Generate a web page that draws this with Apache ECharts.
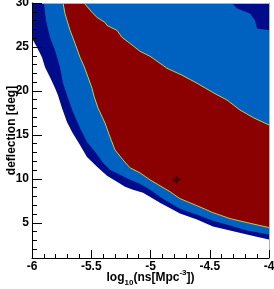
<!DOCTYPE html>
<html>
<head>
<meta charset="utf-8">
<script src="https://cdn.jsdelivr.net/npm/echarts@6/dist/echarts.min.js"></script>
<style>
html,body{margin:0;padding:0;background:#fff;}
#c{width:274px;height:289px;}
</style>
</head>
<body>
<div id="c"></div>
<script>
// Contour boundaries: [log10(ns), deflection deg]; each region fills from its boundary up to the top of the axis
var outerEdge = [[-6.00,25.98],[-5.958,24.96],[-5.916,23.83],[-5.890,22.70],[-5.848,21.56],[-5.806,20.32],[-5.781,19.52],[-5.747,18.05],[-5.705,16.47],[-5.662,15.33],[-5.595,13.86],[-5.536,12.50],[-5.451,11.37],[-5.367,10.35],[-5.283,9.66],[-5.215,9.11],[-5.148,8.77],[-5.063,8.43],[-4.920,7.29],[-4.751,6.05],[-4.608,5.37],[-4.473,4.57],[-4.329,4.12],[-4.186,3.67],[-4.076,3.33],[-4.00,3.10]];
var middleEdge = [[-5.899,30],[-5.882,28.02],[-5.848,26.09],[-5.806,24.62],[-5.764,22.70],[-5.738,20.88],[-5.696,19.18],[-5.654,17.60],[-5.595,15.79],[-5.536,14.20],[-5.468,13.07],[-5.401,11.82],[-5.342,11.03],[-5.257,10.46],[-5.173,9.89],[-5.089,9.44],[-5.004,8.77],[-4.895,7.75],[-4.751,6.61],[-4.608,5.93],[-4.473,5.25],[-4.329,4.69],[-4.186,4.12],[-4.00,3.67]];
var innerLowEdge = [[-5.738,30],[-5.722,28.81],[-5.679,26.89],[-5.637,25.41],[-5.595,23.83],[-5.561,22.81],[-5.527,21.56],[-5.494,20.32],[-5.477,19.41],[-5.443,18.05],[-5.384,16.35],[-5.342,14.77],[-5.300,13.30],[-5.232,12.16],[-5.173,11.26],[-5.089,10.69],[-5.004,9.89],[-4.920,9.22],[-4.835,8.54],[-4.751,7.75],[-4.608,6.95],[-4.473,6.16],[-4.329,5.48],[-4.186,5.03],[-4.00,4.46]];
var innerHighEdge = [[-5.561,30],[-5.485,28.81],[-5.451,28.36],[-5.384,27.79],[-5.367,27.45],[-5.283,26.89],[-5.241,26.09],[-5.173,25.41],[-5.089,24.51],[-5.004,23.94],[-4.861,22.58],[-4.734,21.79],[-4.608,20.88],[-4.464,19.75],[-4.354,18.96],[-4.245,17.83],[-4.127,16.92],[-4.00,16.13]];
var cornerEdge = [[-4.312,30],[-4.270,29.38],[-4.160,28.81],[-4.118,28.02],[-4.101,27.11],[-4.00,26.89]];
var bestFit = [[-4.78,9.9]];

var xTicks = [-6,-5.5,-5,-4.5,-4];
var yMajor = [5,10,15,20,25,30];

var NAVY = '#000c8a', BLUE = '#0062c0', RED = '#8b0000', CONT = '#c8c84a';
var FONT = 'Liberation Sans';

function region(data, color, z, line) {
  return {
    type: 'line', data: data, symbol: 'none', z: z, silent: true,
    areaStyle: { color: color, opacity: 1, origin: 'end' },
    lineStyle: line ? { color: CONT, width: 1 } : { width: 0, color: color },
    itemStyle: { color: color }
  };
}

var chart = echarts.init(document.getElementById('c'), null, { renderer: 'canvas' });
chart.setOption({
  animation: false,
  backgroundColor: '#fff',
  grid: { left: 32, right: 5, top: 3, bottom: 31, containLabel: false, outerBoundsMode: 'none' },
  xAxis: [{
    type: 'value', min: -6, max: -4, interval: 0.5, z: 10,
    axisLine: { show: true, lineStyle: { color: '#000', width: 1 } },
    axisTick: { show: true, inside: true, length: 8, lineStyle: { color: '#000' } },
    minorTick: { show: true, splitNumber: 5, length: 4, lineStyle: { color: '#000' } },
    splitLine: { show: false },
    axisLabel: { color: '#000', fontFamily: FONT, fontWeight: 'bold', fontSize: 12, margin: 3,
      customValues: xTicks, formatter: function (v) { return String(v); } },
    name: '{a|log}{s|10}{a|(ns[Mpc}{p|-3}{a|])}',
    nameLocation: 'middle', nameGap: 11, nameMoveOverlap: false,
    nameTextStyle: {
      rich: {
        a: { fontFamily: FONT, fontWeight: 'bold', fontSize: 12, color: '#000', lineHeight: 18, verticalAlign: 'middle' },
        s: { fontFamily: FONT, fontWeight: 'bold', fontSize: 8, color: '#000', lineHeight: 8, verticalAlign: 'bottom' },
        p: { fontFamily: FONT, fontWeight: 'bold', fontSize: 8, color: '#000', lineHeight: 8, verticalAlign: 'top' }
      }
    }
  }, {
    type: 'value', min: -6, max: -4, position: 'top', z: 10,
    axisLine: { show: true, lineStyle: { color: '#b0b0b0', width: 1 } },
    axisTick: { show: false }, axisLabel: { show: false }, splitLine: { show: false }
  }],
  yAxis: [{
    type: 'value', min: 1, max: 30, z: 10,
    axisLine: { show: true, lineStyle: { color: '#000', width: 1 } },
    axisTick: { show: true, inside: true, length: 10, customValues: yMajor, lineStyle: { color: '#000' } },
    axisLabel: { color: '#000', fontFamily: FONT, fontWeight: 'bold', fontSize: 12, margin: 3, customValues: yMajor },
    splitLine: { show: false },
    name: 'deflection [deg]', nameLocation: 'middle', nameGap: 14, nameMoveOverlap: false,
    nameTextStyle: { fontFamily: FONT, fontWeight: 'bold', fontSize: 12, color: '#000' }
  }, {
    type: 'value', min: 1, max: 30, interval: 1, position: 'left', z: 10,
    axisLine: { show: false },
    axisTick: { show: true, inside: true, length: 5, lineStyle: { color: '#000' } },
    axisLabel: { show: false }, splitLine: { show: false }
  }, {
    type: 'value', min: 1, max: 30, position: 'right', z: 10,
    axisLine: { show: true, lineStyle: { color: '#b0b0b0', width: 1 } },
    axisTick: { show: false }, axisLabel: { show: false }, splitLine: { show: false }
  }],
  series: [
    region(outerEdge, NAVY, 2, false),
    region(middleEdge, BLUE, 3, false),
    region(innerLowEdge, RED, 4, true),
    region(innerHighEdge, BLUE, 5, true),
    region(cornerEdge, NAVY, 6, false),
    {
      type: 'scatter', data: bestFit, z: 8, silent: true,
      symbol: 'path://M3,0 L5,0 L5,3 L8,3 L8,5 L5,5 L5,8 L3,8 L3,5 L0,5 L0,3 L3,3 Z',
      symbolSize: 7,
      itemStyle: { color: '#3a0000', borderColor: '#200000', borderWidth: 0.5 }
    }
  ]
});
</script>
</body>
</html>
